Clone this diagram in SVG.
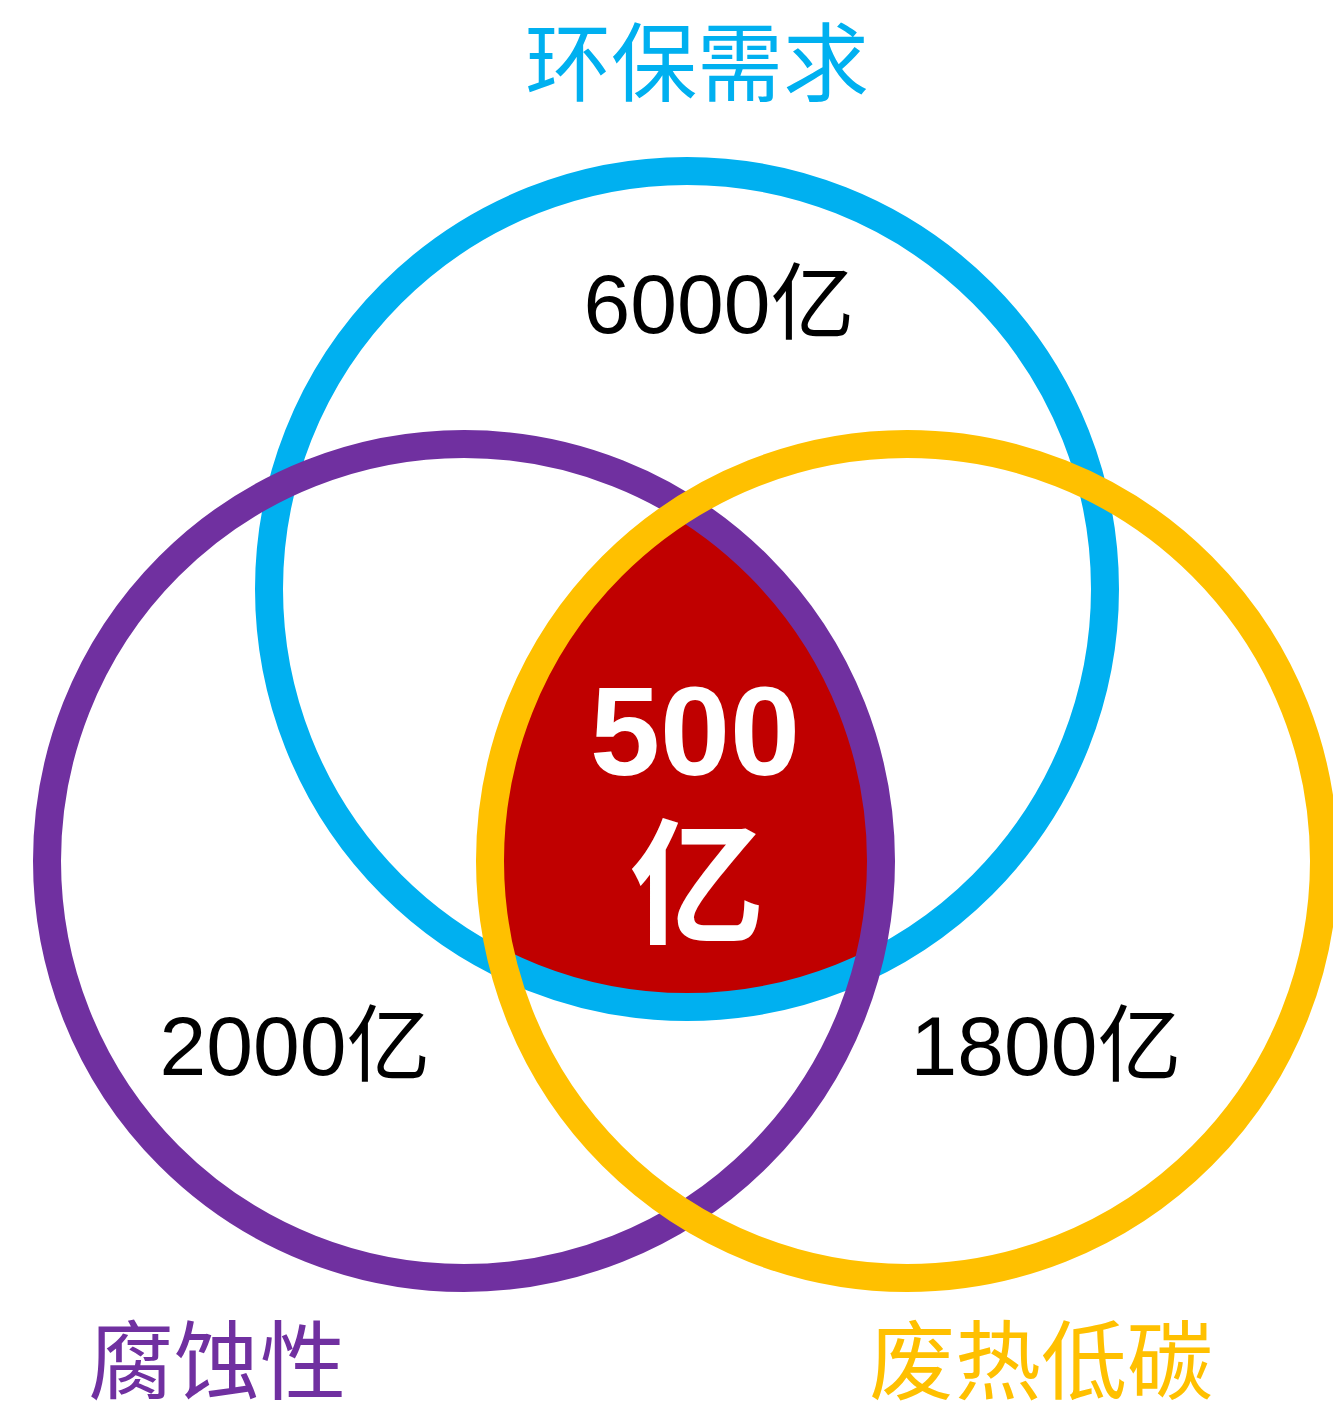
<svg xmlns="http://www.w3.org/2000/svg" width="1333" height="1409" viewBox="0 0 1333 1409">
<style>
.ring{fill:none;stroke-width:28}
.num{font-family:"Liberation Sans","Noto Sans CJK SC",sans-serif;font-size:84px;fill:#000;text-anchor:middle}
.lbl{font-family:"Noto Sans CJK SC",sans-serif;font-size:86px;text-anchor:middle}
</style>
<defs>
<clipPath id="cb"><circle cx="687" cy="589" r="418"/></clipPath>
<clipPath id="cp"><circle cx="464" cy="861" r="417"/></clipPath>
</defs>
<rect width="1333" height="1409" fill="#fff"/>
<g id="core">
<g clip-path="url(#cb)"><g clip-path="url(#cp)"><circle cx="907" cy="861" r="417" fill="#C00000"/></g></g>
</g>
<g id="connectors"/>
<g id="circle-env"><circle class="ring" cx="687" cy="589" r="418" stroke="#00B0F0"/></g>
<g id="circle-corr"><circle class="ring" cx="464" cy="861" r="417" stroke="#7030A0"/></g>
<g id="circle-heat"><circle class="ring" cx="907" cy="861" r="417" stroke="#FFC000"/></g>
<g id="labels">
<text class="lbl" x="697" y="95" fill="#00B0F0">环保需求</text>
<text class="lbl" x="217" y="1393" fill="#7030A0">腐蚀性</text>
<text class="lbl" x="1041" y="1393" fill="#FFC000">废热低碳</text>
<text class="num" x="719" y="333">6000亿</text>
<text class="num" x="295" y="1075">2000亿</text>
<text class="num" x="1046" y="1075">1800亿</text>
<text x="695" y="775" font-family="Liberation Sans,sans-serif" font-weight="bold" font-size="126" fill="#fff" text-anchor="middle">500</text>
<text x="697" y="933" font-family="Noto Sans CJK SC,sans-serif" font-weight="bold" font-size="135" fill="#fff" text-anchor="middle">亿</text>
</g>
</svg>
